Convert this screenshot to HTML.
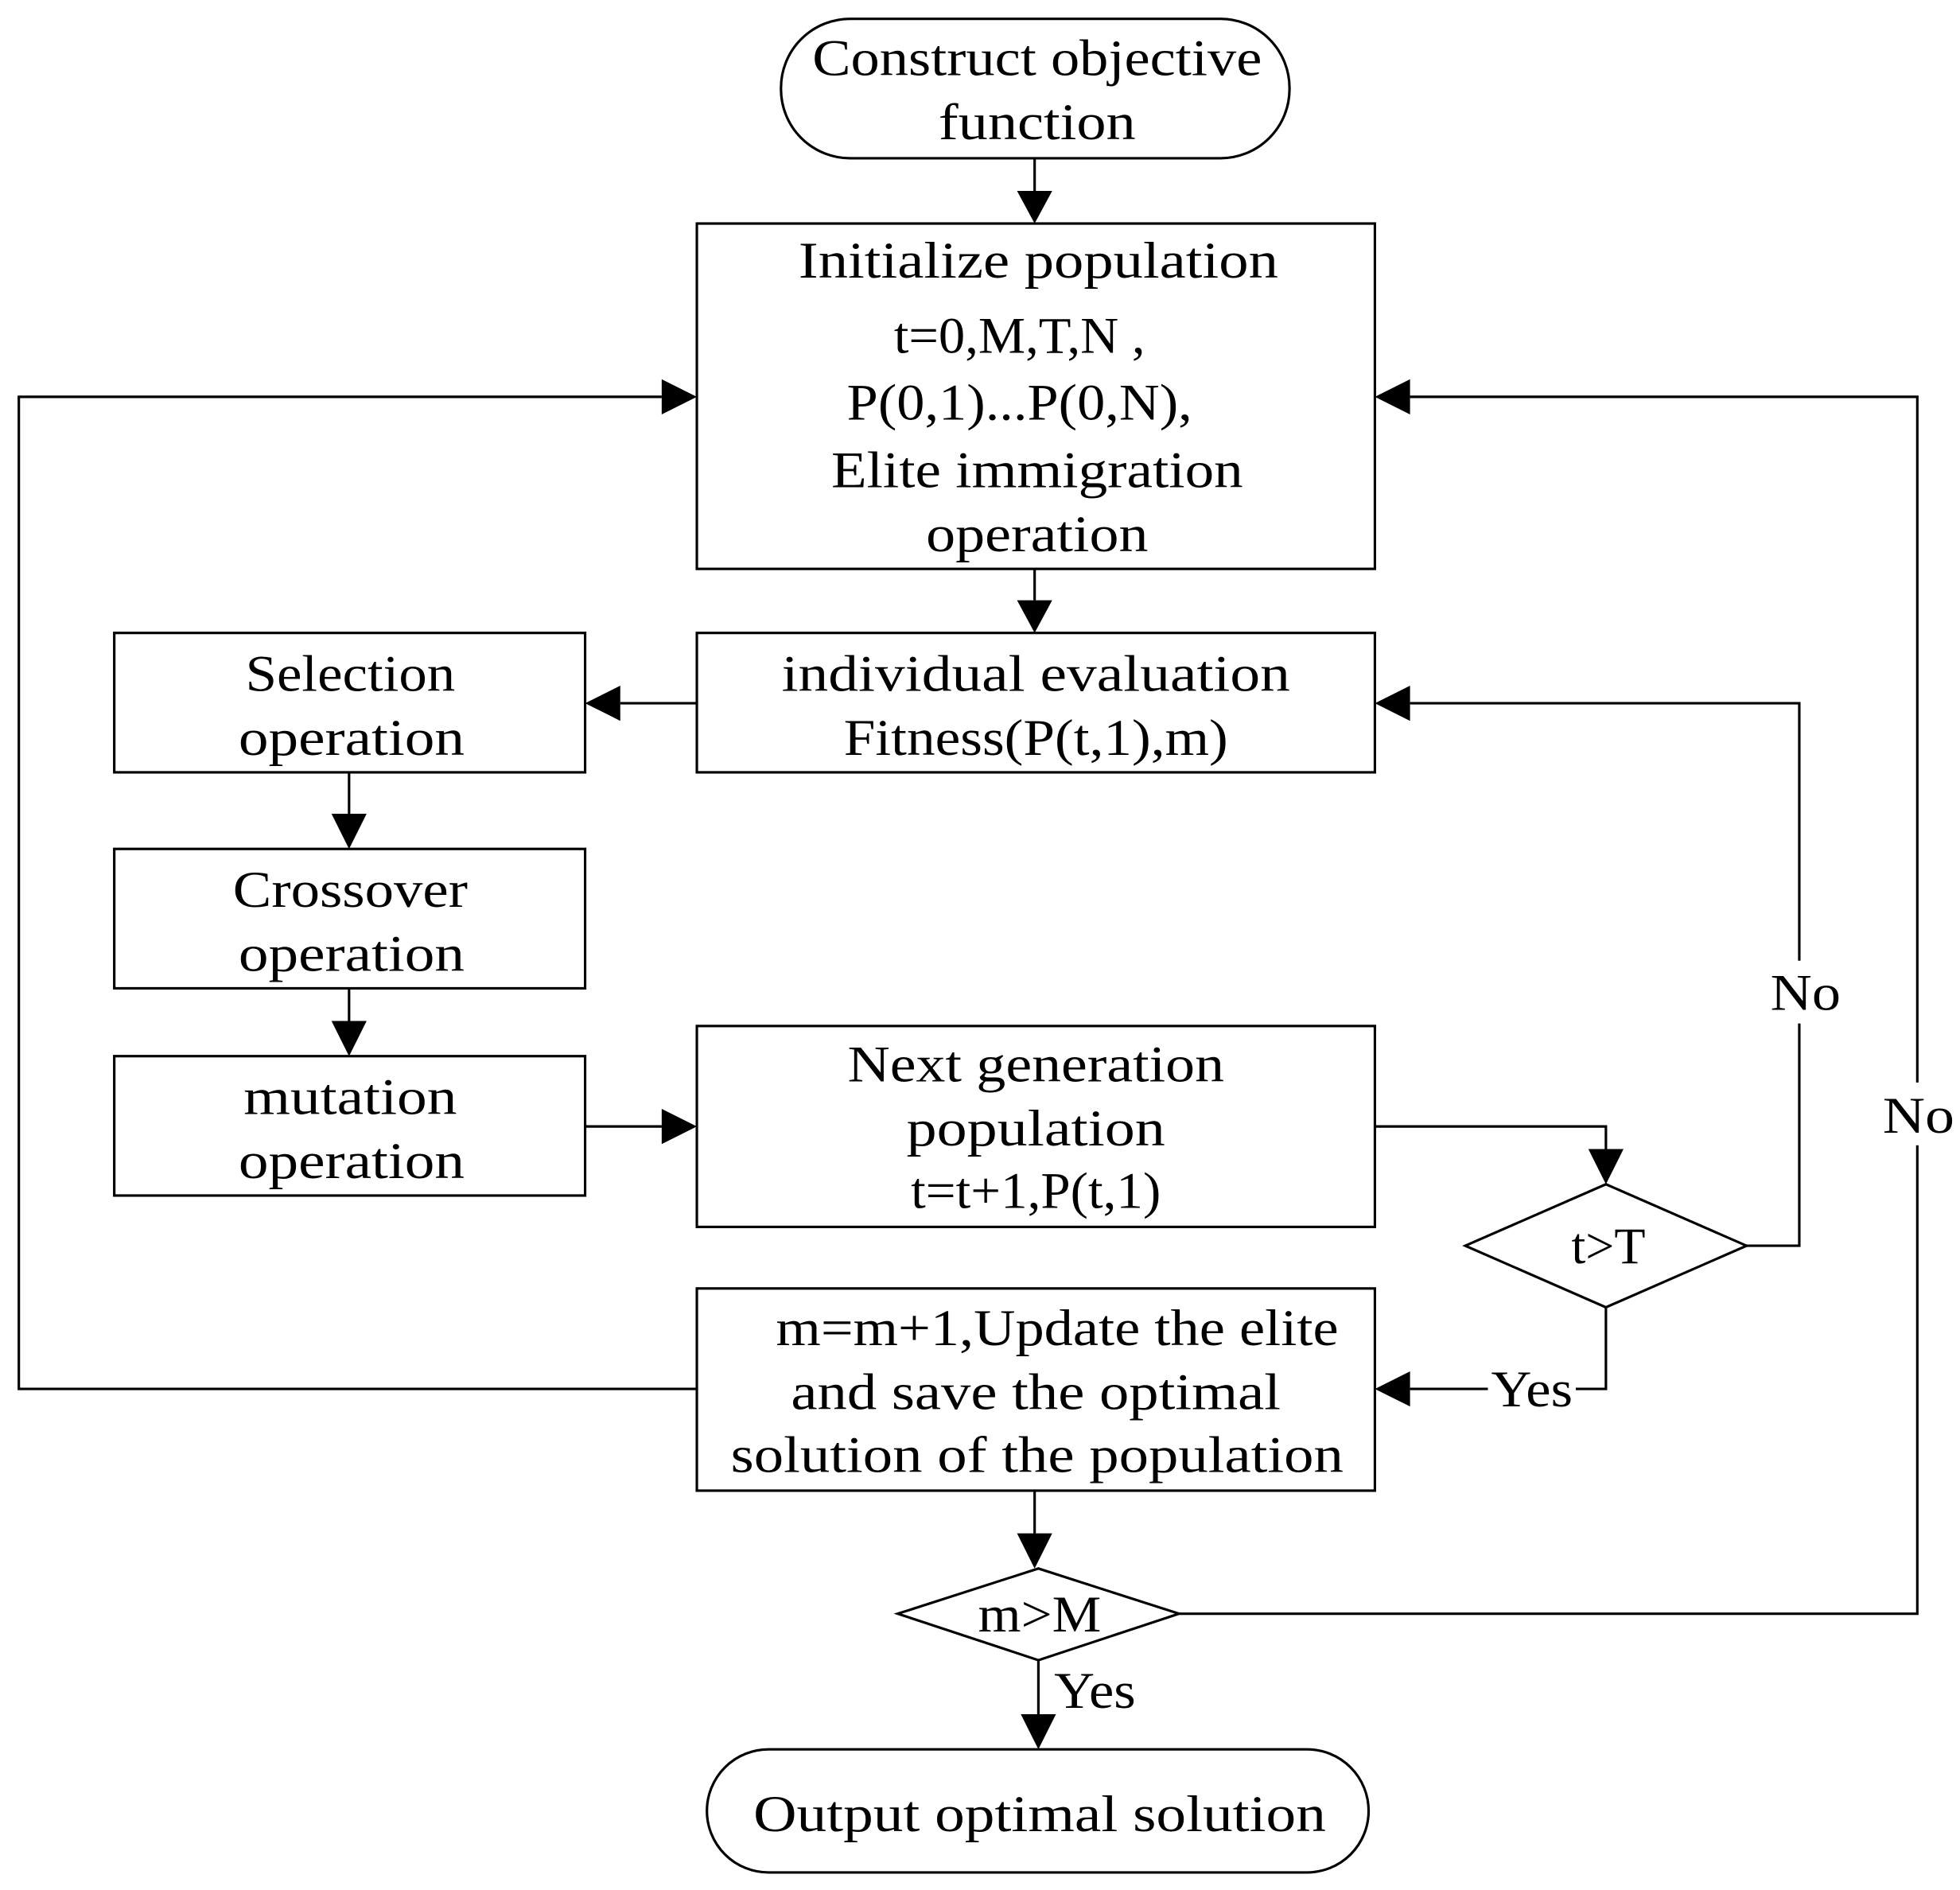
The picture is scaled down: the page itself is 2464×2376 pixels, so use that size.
<!DOCTYPE html>
<html><head><style>html,body{margin:0;padding:0;background:#fff;}svg{display:block}</style></head>
<body>
<svg width="2464" height="2376" viewBox="0 0 1561 1505" preserveAspectRatio="none" xmlns="http://www.w3.org/2000/svg">
<g fill="none" stroke="#000" stroke-width="2">
<rect x="622" y="15" width="405" height="111" rx="55" ry="55"/>
<rect x="555" y="178" width="540" height="275"/>
<rect x="555" y="504" width="540" height="111"/>
<rect x="91" y="504" width="375" height="111"/>
<rect x="91" y="676" width="375" height="111"/>
<rect x="91" y="841" width="375" height="111"/>
<rect x="555" y="817" width="540" height="160"/>
<rect x="555" y="1026" width="540" height="161"/>
<rect x="563" y="1393" width="527" height="98" rx="49" ry="49"/>
<polygon points="1167,992 1279,943 1391,992 1279,1041"/>
<polygon points="715,1285 827,1249 939,1285 827,1322"/>
<polyline points="824,126 824,152"/>
<polyline points="824,453 824,478"/>
<polyline points="555,560 494,560"/>
<polyline points="278,615 278,648"/>
<polyline points="278,787 278,813"/>
<polyline points="466,897 527,897"/>
<polyline points="1095,897 1279,897 1279,915"/>
<polyline points="1391,992 1433,992 1433,560 1123,560"/>
<polyline points="1279,1041 1279,1106 1123,1106"/>
<polyline points="555,1106 15,1106 15,316 527,316"/>
<polyline points="939,1285 1527,1285 1527,316 1123,316"/>
<polyline points="824,1187 824,1221"/>
<polyline points="827,1322 827,1365"/>
</g>
<g fill="#000">
<polygon points="810,152 838,152 824,178"/>
<polygon points="810,478 838,478 824,504"/>
<polygon points="494,546 494,574 466,560"/>
<polygon points="264,648 292,648 278,676"/>
<polygon points="264,813 292,813 278,841"/>
<polygon points="527,883 527,911 555,897"/>
<polygon points="1265,915 1293,915 1279,943"/>
<polygon points="1123,546 1123,574 1095,560"/>
<polygon points="1123,1092 1123,1120 1095,1106"/>
<polygon points="527,302 527,330 555,316"/>
<polygon points="1123,302 1123,330 1095,316"/>
<polygon points="810,1221 838,1221 824,1249"/>
<polygon points="813,1365 841,1365 827,1393"/>
</g>
<g fill="#fff" stroke="none">
<rect x="1405" y="765" width="60" height="50"/>
<rect x="1497" y="862" width="60" height="50"/>
<rect x="1185" y="1085" width="70" height="44"/>
</g>
<g font-family="'Liberation Serif', serif" font-size="41" text-anchor="middle" fill="#000" lengthAdjust="spacingAndGlyphs">
<text x="826" y="60" textLength="358" lengthAdjust="spacingAndGlyphs">Construct objective</text>
<text x="826" y="111" textLength="157" lengthAdjust="spacingAndGlyphs">function</text>
<text x="827" y="221" textLength="382" lengthAdjust="spacingAndGlyphs">Initialize population</text>
<text x="812" y="281" textLength="200" lengthAdjust="spacingAndGlyphs">t=0,M,T,N ,</text>
<text x="812" y="334" textLength="275" lengthAdjust="spacingAndGlyphs">P(0,1)...P(0,N),</text>
<text x="826" y="388" textLength="328" lengthAdjust="spacingAndGlyphs">Elite immigration</text>
<text x="826" y="439" textLength="177" lengthAdjust="spacingAndGlyphs">operation</text>
<text x="825" y="550" textLength="405" lengthAdjust="spacingAndGlyphs">individual evaluation</text>
<text x="825" y="601" textLength="306" lengthAdjust="spacingAndGlyphs">Fitness(P(t,1),m)</text>
<text x="279" y="550" textLength="167" lengthAdjust="spacingAndGlyphs">Selection</text>
<text x="280" y="601" textLength="180" lengthAdjust="spacingAndGlyphs">operation</text>
<text x="279" y="722" textLength="187" lengthAdjust="spacingAndGlyphs">Crossover</text>
<text x="280" y="773" textLength="180" lengthAdjust="spacingAndGlyphs">operation</text>
<text x="279" y="887" textLength="170" lengthAdjust="spacingAndGlyphs">mutation</text>
<text x="280" y="938" textLength="180" lengthAdjust="spacingAndGlyphs">operation</text>
<text x="825" y="861" textLength="300" lengthAdjust="spacingAndGlyphs">Next generation</text>
<text x="825" y="912" textLength="206" lengthAdjust="spacingAndGlyphs">population</text>
<text x="825" y="962" textLength="199" lengthAdjust="spacingAndGlyphs">t=t+1,P(t,1)</text>
<text x="1281" y="1006" textLength="59" lengthAdjust="spacingAndGlyphs">t&gt;T</text>
<text x="842" y="1071" textLength="448" lengthAdjust="spacingAndGlyphs">m=m+1,Update the elite</text>
<text x="825" y="1122" textLength="390" lengthAdjust="spacingAndGlyphs">and save the optimal</text>
<text x="826" y="1172" textLength="488" lengthAdjust="spacingAndGlyphs">solution of the population</text>
<text x="828" y="1299" textLength="98" lengthAdjust="spacingAndGlyphs">m&gt;M</text>
<text x="828" y="1458" textLength="456" lengthAdjust="spacingAndGlyphs">Output optimal solution</text>
<text x="1438" y="804" textLength="56" lengthAdjust="spacingAndGlyphs">No</text>
<text x="1528" y="902" textLength="57" lengthAdjust="spacingAndGlyphs">No</text>
<text x="1220" y="1120" textLength="65" lengthAdjust="spacingAndGlyphs">Yes</text>
<text x="872" y="1360" textLength="65" lengthAdjust="spacingAndGlyphs">Yes</text>
</g>
</svg>
</body></html>
